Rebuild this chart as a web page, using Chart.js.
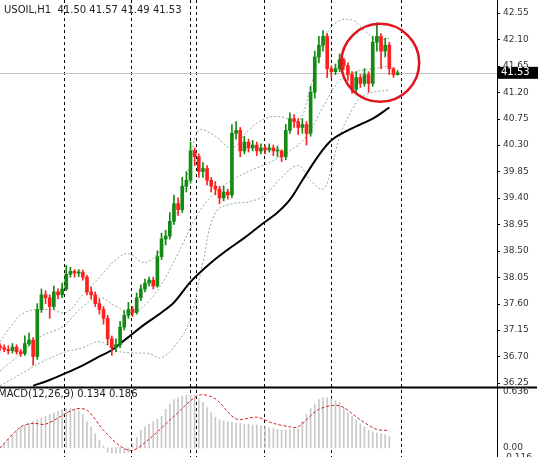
<!DOCTYPE html>
<html>
<head>
<meta charset="utf-8">
<script src="https://cdn.jsdelivr.net/npm/chart.js@4.4.1/dist/chart.umd.min.js"></script>
<style>
  body { margin: 0; background: #fff; }
  #wrap { width: 540px; height: 457px; }
</style>
</head>
<body>
<div id="wrap"><canvas id="c"></canvas></div>
<script>
// USOIL H1 - bougies (open = close précédent)
const closes = [36.85,36.82,36.80,36.86,36.78,36.75,36.92,36.98,36.70,37.50,
  37.75,37.70,37.55,37.80,37.75,37.85,38.10,38.15,38.12,38.13,
  38.05,37.80,37.75,37.60,37.50,37.35,37.00,36.85,36.90,37.20,
  37.40,37.50,37.45,37.70,37.85,37.95,38.00,37.90,38.40,38.70,
  38.75,39.00,39.30,39.20,39.60,39.70,40.20,40.10,39.85,39.90,
  39.70,39.60,39.55,39.40,39.50,39.45,40.50,40.55,40.20,40.35,
  40.25,40.30,40.20,40.25,40.22,40.25,40.20,40.20,40.10,40.55,
  40.75,40.70,40.60,40.65,40.50,41.20,41.80,42.00,42.15,41.60,
  41.55,41.60,41.75,41.65,41.50,41.25,41.45,41.35,41.50,41.35,
  42.05,42.15,41.90,42.00,41.60,41.50,41.53];
const highs = [36.92,36.90,36.88,36.92,36.90,36.82,37.05,37.10,37.02,37.60,
  37.85,37.82,37.75,37.90,37.85,37.95,38.25,38.22,38.18,38.18,
  38.17,38.08,37.88,37.80,37.68,37.55,37.40,37.05,37.00,37.30,
  37.48,37.62,37.55,37.78,37.92,38.02,38.05,38.05,38.50,38.80,
  38.85,39.15,39.45,39.40,39.75,39.85,40.35,40.25,40.15,40.00,
  39.95,39.75,39.68,39.60,39.60,39.55,40.65,40.70,40.60,40.45,
  40.40,40.38,40.35,40.32,40.30,40.32,40.30,40.28,40.22,40.65,
  40.85,40.82,40.75,40.75,40.70,41.30,41.90,42.15,42.25,42.20,
  41.65,41.68,41.85,41.78,41.70,41.55,41.55,41.50,41.60,41.55,
  42.15,42.38,42.20,42.12,42.05,41.62,41.57];
const lows = [36.80,36.78,36.74,36.76,36.74,36.70,36.72,36.88,36.55,36.65,
  37.45,37.60,37.35,37.50,37.68,37.70,37.82,38.05,38.05,38.06,
  38.00,37.75,37.68,37.55,37.42,37.25,36.90,36.72,36.78,36.85,
  37.15,37.35,37.38,37.42,37.65,37.80,37.90,37.85,37.88,38.35,
  38.60,38.70,38.95,39.10,39.15,39.50,39.65,39.95,39.75,39.75,
  39.62,39.50,39.45,39.30,39.35,39.38,39.40,40.40,40.10,40.15,
  40.18,40.20,40.12,40.15,40.15,40.18,40.12,40.10,40.02,40.05,
  40.50,40.60,40.48,40.50,40.30,40.45,41.10,41.70,41.90,41.45,
  41.45,41.50,41.55,41.58,41.40,41.18,41.20,41.28,41.30,41.20,
  41.30,41.90,41.60,41.80,41.50,41.45,41.49];
const firstOpen = 36.88;

// Moyenne mobile et bandes ([index bougie, prix])
const maPts = [[8,36.20],[12,36.30],[16,36.42],[20,36.55],[24,36.70],[27,36.81],[31,37.03],[35,37.25],[39,37.45],[42,37.62],[46,37.97],[51,38.30],[55,38.52],[59,38.72],[63,38.94],[67,39.15],[70,39.37],[73,39.70],[77,40.13],[80,40.38],[84,40.55],[87,40.65],[90,40.75],[94,40.94]];
const upperPts = [[0,36.95],[3,37.25],[6,37.45],[12,37.50],[16,37.45],[20,37.75],[24,38.05],[28,38.35],[31,38.45],[35,38.30],[39,38.55],[43,39.20],[46,40.00],[48,40.55],[52,40.45],[56,40.25],[60,40.55],[64,40.75],[68,40.78],[72,40.70],[75,41.30],[78,42.05],[81,42.38],[85,42.43],[88,42.25],[91,42.10],[94,42.12]];
const middlePts = [[0,36.45],[5,36.75],[10,37.05],[15,37.20],[20,37.55],[24,37.70],[28,37.55],[32,37.45],[36,37.65],[40,38.05],[44,38.60],[48,39.15],[52,39.50],[56,39.70],[60,39.85],[65,40.00],[70,40.20],[74,40.45],[78,40.95],[82,41.40],[86,41.55],[90,41.60],[94,41.65]];
const lowerPts = [[0,36.20],[5,36.40],[10,36.60],[15,36.76],[20,36.85],[24,36.95],[28,36.80],[32,36.76],[36,36.75],[39,36.68],[43,36.95],[46,37.35],[49,38.30],[52,39.15],[56,39.30],[60,39.33],[64,39.45],[68,39.75],[72,39.95],[75,39.70],[78,39.55],[80,39.90],[82,40.44],[85,40.90],[88,41.15],[94,41.24]];

// MACD : histogramme et signal
const histPts = [[0,0.00],[1,0.05],[2,0.10],[3,0.15],[4,0.20],[5,0.24],[6,0.26],[7,0.28],[8,0.30],[9,0.32],[10,0.34],[11,0.36],[12,0.38],[13,0.40],[14,0.42],[15,0.44],[16,0.45],[17,0.45],[18,0.44],[19,0.42],[20,0.38],[21,0.30],[22,0.24],[23,0.16],[24,0.09],[25,0.02],[26,-0.05],[27,-0.06],[28,-0.06],[29,-0.06],[30,-0.06],[31,-0.05],[32,0.05],[33,0.12],[34,0.20],[35,0.24],[36,0.27],[37,0.30],[38,0.33],[39,0.36],[40,0.44],[41,0.50],[42,0.55],[43,0.57],[44,0.59],[45,0.60],[46,0.60],[47,0.60],[48,0.56],[49,0.52],[50,0.46],[51,0.40],[52,0.35],[53,0.32],[54,0.31],[55,0.30],[56,0.29],[57,0.28],[58,0.28],[59,0.27],[60,0.27],[61,0.26],[62,0.26],[63,0.25],[64,0.24],[65,0.23],[66,0.22],[67,0.21],[68,0.20],[69,0.20],[70,0.21],[71,0.22],[72,0.22],[73,0.30],[74,0.38],[75,0.45],[76,0.50],[77,0.55],[78,0.57],[79,0.57],[80,0.56],[81,0.54],[82,0.52],[83,0.46],[84,0.40],[85,0.36],[86,0.32],[87,0.27],[88,0.24],[89,0.20],[90,0.18],[91,0.17],[92,0.16],[93,0.15],[94,0.13]];
const signalPts = [[0,0.00],[5,0.24],[8,0.28],[11,0.27],[18,0.44],[21,0.43],[25,0.20],[29,0.02],[32,-0.03],[36,0.10],[42,0.36],[48,0.60],[52,0.56],[57,0.33],[62,0.35],[66,0.28],[70,0.24],[72,0.24],[77,0.44],[82,0.48],[87,0.32],[91,0.21],[94,0.20]];

const priceTicks = [42.55,42.10,41.65,41.20,40.75,40.30,39.85,39.40,38.95,38.50,38.05,37.60,37.15,36.70,36.25];
const macdTicks = [0.636, 0.00, -0.116];
const sessionLines = [15.5,31.7,45.9,47.4,63.8,80.0,96.9];
const lastPrice = 41.53;

const opens = closes.map((c, i) => i === 0 ? firstOpen : closes[i - 1]);
const up = closes.map((c, i) => c >= opens[i]);
const GREEN = '#138a13', RED = '#ff1f1f';
const xy = pts => pts.map(([x, y]) => ({x, y}));

const overlay = {
  id: 'overlay',
  beforeDatasetsDraw(chart) {
    const {ctx, chartArea, scales} = chart;
    ctx.save();
    ctx.strokeStyle = '#000';
    ctx.lineWidth = 1;
    ctx.setLineDash([3, 3]);
    sessionLines.forEach(v => {
      const x = Math.round(scales.x.getPixelForValue(v)) + 0.5;
      ctx.beginPath(); ctx.moveTo(x, 0); ctx.lineTo(x, chart.height); ctx.stroke();
    });
    ctx.setLineDash([]);
    const y = Math.round(scales.y.getPixelForValue(lastPrice)) + 0.5;
    ctx.strokeStyle = '#c0c0c0';
    ctx.beginPath(); ctx.moveTo(chartArea.left, y); ctx.lineTo(chartArea.right, y); ctx.stroke();
    const sep = Math.round(scales.y.bottom) + 0.5;
    ctx.strokeStyle = '#000'; ctx.lineWidth = 2;
    ctx.beginPath(); ctx.moveTo(0, sep); ctx.lineTo(chartArea.right + 40, sep); ctx.stroke();
    ctx.restore();
  },
  afterDraw(chart) {
    const {ctx, chartArea, scales} = chart;
    ctx.save();
    ctx.font = '10px "DejaVu Sans"';
    ctx.fillStyle = '#222';
    ctx.textBaseline = 'top';
    ctx.fillText('USOIL,H1  41.50 41.57 41.49 41.53', 4, 5);
    ctx.fillText('MACD(12,26,9) 0.134 0.186', -2, scales.y2.top + 2);
    // graduations de droite
    ctx.font = '9px "DejaVu Sans"';
    ctx.fillStyle = '#333';
    ctx.textBaseline = 'middle';
    const tx = chartArea.right + 6;
    priceTicks.forEach(v => ctx.fillText(v.toFixed(2), tx, scales.y.getPixelForValue(v)));
    macdTicks.forEach(v => ctx.fillText(v === 0 ? '0.00' : String(v), tx, scales.y2.getPixelForValue(v)));
    ctx.strokeStyle = '#000'; ctx.lineWidth = 1;
    priceTicks.forEach(v => {
      const y = Math.round(scales.y.getPixelForValue(v)) + 0.5;
      ctx.beginPath(); ctx.moveTo(chartArea.right, y); ctx.lineTo(chartArea.right + 3, y); ctx.stroke();
    });
    // étiquette prix courant
    const y = scales.y.getPixelForValue(lastPrice);
    ctx.font = '10px "DejaVu Sans"';
    ctx.fillStyle = '#000';
    ctx.fillRect(chartArea.right + 1, y - 6, 40, 12);
    ctx.fillStyle = '#fff';
    ctx.fillText('41.53', chartArea.right + 4, y);
    // cercle rouge
    const cx = scales.x.getPixelForValue(91.8), cy = scales.y.getPixelForValue(41.7);
    ctx.strokeStyle = '#e0141e'; ctx.lineWidth = 2.5;
    ctx.beginPath(); ctx.arc(cx, cy, 39, 0, Math.PI * 2); ctx.stroke();
    ctx.restore();
  }
};

const bandStyle = {type: 'line', yAxisID: 'y', borderColor: '#8fae90', borderWidth: 1, borderDash: [2, 2], pointRadius: 0, fill: false, tension: 0.4};

new Chart(document.getElementById('c'), {
  data: {
    datasets: [
      {...bandStyle, data: xy(upperPts), order: 5},
      {...bandStyle, data: xy(middlePts), order: 5},
      {...bandStyle, data: xy(lowerPts), order: 5},
      {type: 'line', yAxisID: 'y', data: xy(maPts), borderColor: '#000', borderWidth: 2, pointRadius: 0, cubicInterpolationMode: 'monotone', order: 4},
      {type: 'bar', yAxisID: 'y', grouped: false, order: 3, barThickness: 1,
        data: closes.map((c, i) => ({x: i, y: [lows[i], highs[i]]})),
        backgroundColor: up.map(u => u ? GREEN : RED)},
      {type: 'bar', yAxisID: 'y', grouped: false, order: 2, barThickness: 3, minBarLength: 1,
        data: closes.map((c, i) => ({x: i, y: [Math.min(opens[i], c), Math.max(opens[i], c)]})),
        backgroundColor: up.map(u => u ? GREEN : RED)},
      {type: 'bar', yAxisID: 'y2', grouped: false, order: 6, barThickness: 1,
        data: xy(histPts), backgroundColor: '#c8c8c8'},
      {type: 'line', yAxisID: 'y2', data: xy(signalPts), borderColor: '#d02020', borderWidth: 1, borderDash: [3, 2], pointRadius: 0, tension: 0.3, order: 1}
    ]
  },
  options: {
    responsive: true,
    maintainAspectRatio: false,
    animation: false,
    layout: {padding: 0},
    plugins: {legend: {display: false}, tooltip: {enabled: false}},
    scales: {
      x: {type: 'linear', display: false, offset: false, min: 0, max: 120, grid: {display: false}},
      y: {
        position: 'right', stack: 'p', stackWeight: 5.53, min: 36.18, max: 42.77,
        grid: {display: false}, border: {display: true, color: '#000'},
        afterFit: s => { s.width = 43; s.paddingTop = 0; s.paddingBottom = 0; },
        ticks: {display: false}
      },
      y2: {
        position: 'right', stack: 'p', stackWeight: 1, min: -0.104, max: 0.694,
        grid: {display: false}, border: {display: true, color: '#000'},
        afterFit: s => { s.width = 43; s.paddingTop = 0; s.paddingBottom = 0; },
        ticks: {display: false}
      }
    }
  },
  plugins: [overlay]
});
</script>
</body>
</html>
